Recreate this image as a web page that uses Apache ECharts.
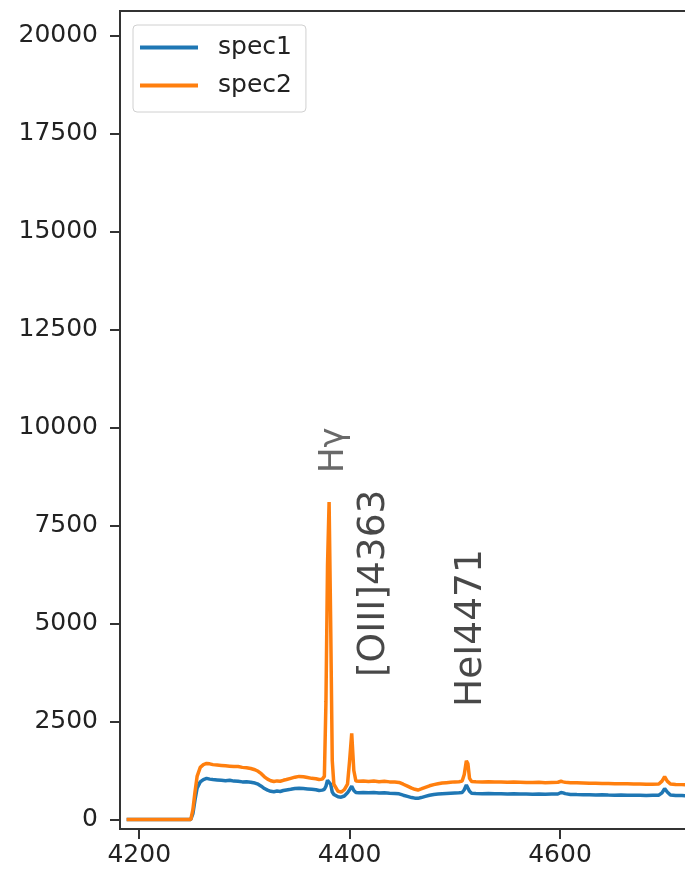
<!DOCTYPE html>
<html>
<head>
<meta charset="utf-8">
<script src="https://cdn.jsdelivr.net/npm/echarts@6/dist/echarts.min.js"></script>
<style>
  html, body { margin: 0; padding: 0; background: #fff; overflow: hidden; }
  #chart { width: 685px; height: 871px; }
</style>
</head>
<body>
<div id="chart"></div>
<script>
// Wavelength grid (Å) and the two flux spectra
const wave = [
  4188, 4249, 4251, 4253, 4255, 4258, 4261, 4264, 4267, 4270, 4274, 4278, 4282, 4286, 4290,
  4294, 4298, 4302, 4306, 4310, 4313, 4316, 4319, 4322, 4325, 4328, 4331, 4334, 4337, 4340,
  4344, 4348, 4352, 4356, 4360, 4364, 4368, 4371, 4374, 4376, 4377.5, 4379, 4380.5, 4382, 4383.5,
  4385, 4389, 4392, 4395, 4398, 4400, 4402, 4404, 4406, 4409, 4413, 4418, 4423, 4428, 4433,
  4438, 4443, 4447, 4451, 4455, 4459, 4462, 4465, 4468, 4472, 4476, 4480, 4484, 4488, 4492,
  4496, 4500, 4504, 4507, 4509, 4511, 4512.5, 4514, 4516, 4520, 4526, 4532, 4538, 4544, 4550,
  4556, 4562, 4568, 4574, 4580, 4586, 4592, 4598, 4601, 4603, 4605, 4610, 4616, 4622, 4628,
  4634, 4640, 4646, 4652, 4658, 4664, 4670, 4676, 4682, 4688, 4694, 4697, 4699.5, 4702, 4705,
  4710, 4716, 4722, 4728, 4734, 4740, 4746, 4752, 4760
];
const spec1 = [
  0, 0, 150, 500, 800, 960, 1020, 1050, 1030, 1020, 1010, 1000, 990, 1000, 980,
  975, 960, 965, 950, 930, 900, 850, 790, 750, 720, 710, 725, 715, 740, 755,
  770, 790, 800, 790, 780, 770, 760, 740, 750, 770, 850, 1000, 1050, 900, 700,
  640, 580, 570, 600, 680, 760, 850, 740, 690, 680, 690, 680, 690, 675, 680,
  670, 665, 655, 620, 590, 560, 545, 540, 560, 590, 620, 640, 650, 660, 665,
  670, 675, 680, 690, 760, 880, 850, 720, 670, 665, 660, 665, 655, 660, 650,
  655, 650, 648, 645, 650, 645, 648, 650, 690, 680, 660, 640, 635, 632, 630,
  628, 630, 625, 622, 625, 620, 618, 620, 615, 618, 620, 680, 790, 700, 625,
  612, 610, 608, 605, 608, 605, 603, 605, 600
];
const spec2 = [
  0, 0, 250, 700, 1100, 1330, 1400, 1430, 1420, 1400, 1390, 1380, 1370, 1360, 1350,
  1350, 1330, 1320, 1300, 1270, 1230, 1170, 1090, 1030, 990, 970, 985, 975, 1000, 1020,
  1050, 1080, 1100, 1090, 1070, 1050, 1040, 1020, 1030, 1100, 3000, 6500, 8100, 5000, 1500,
  900, 720, 700, 760, 900, 1500, 2200, 1250, 980, 975, 985, 970, 980, 965, 975,
  960, 955, 945, 900, 850, 800, 770, 752, 780, 820, 860, 890, 910, 930, 940,
  950, 960, 965, 980, 1150, 1500, 1420, 1050, 970, 965, 960, 965, 955, 960, 950,
  955, 950, 945, 945, 950, 940, 945, 950, 975, 960, 950, 940, 935, 930, 925,
  925, 920, 918, 915, 915, 910, 905, 905, 900, 900, 905, 980, 1090, 980, 905,
  895, 890, 885, 880, 882, 880, 878, 880, 875
];

// Axis ticks
const xTicks = [4200, 4400, 4600];
const yTicks = [0, 2500, 5000, 7500, 10000, 12500, 15000, 17500, 20000];

// Emission-line annotations: text and anchor (wavelength, flux) where the text starts
const lineNames = ['Hγ', '[OIII]4363', 'HeI4471'];
const lineWave = [4385.1, 4423.1, 4516.0];
const lineFlux = [8839, 3635, 2870];
const lineFont = [34, 37.5, 37.5];

const seriesNames = ['spec1', 'spec2'];
const seriesColors = ['#1f77b4', '#ff7f0e'];

const font = 'DejaVu Sans';
const chart = echarts.init(document.getElementById('chart'), null, { renderer: 'canvas' });

const pairs = (ys) => wave.map((w, i) => [w, ys[i]]);

const annotationData = lineNames.map((n, i) => ({
  value: [lineWave[i], lineFlux[i]],
  label: { formatter: n, fontSize: lineFont[i], color: i === 0 ? '#444' : '#1a1a1a' }
}));

chart.setOption({
  backgroundColor: '#ffffff',
  animation: false,
  grid: {
    // the plot box runs past the right edge of the canvas
    left: 120, top: 11, bottom: 42, width: 605,
    outerBoundsMode: 'none', containLabel: false,
    show: true, borderColor: '#333', borderWidth: 2, backgroundColor: 'transparent'
  },
  legend: {
    data: seriesNames,
    orient: 'vertical',
    left: 133, top: 25,
    icon: 'rect',
    itemWidth: 58, itemHeight: 4, itemGap: 13,
    padding: [10, 14, 14, 7],
    backgroundColor: 'rgba(255,255,255,0.8)',
    borderColor: '#d0d0d0', borderWidth: 1, borderRadius: 4,
    textStyle: { fontFamily: font, fontSize: 25, lineHeight: 25, color: '#222', padding: [0, 0, 0, 15] }
  },
  xAxis: {
    type: 'value',
    min: 4181.7, max: 4756.9,
    axisLine: { show: true, onZero: false, lineStyle: { color: '#333', width: 2 } },
    axisTick: { show: true, length: 10, customValues: xTicks, lineStyle: { color: '#333', width: 2 } },
    axisLabel: { customValues: xTicks, margin: 14, fontFamily: font, fontSize: 25, color: '#222',
                 formatter: (v) => String(v) },
    splitLine: { show: false }
  },
  yAxis: {
    type: 'value',
    min: -242, max: 20625,
    axisLine: { show: true, onZero: false, lineStyle: { color: '#333', width: 2 } },
    axisTick: { show: true, length: 10, customValues: yTicks, lineStyle: { color: '#333', width: 2 } },
    axisLabel: { customValues: yTicks, margin: 22, fontFamily: font, fontSize: 25, color: '#222',
                 formatter: (v) => String(v) },
    splitLine: { show: false }
  },
  series: [
    ...seriesNames.map((name, k) => ({
      name, type: 'line',
      data: pairs(k === 0 ? spec1 : spec2),
      symbol: 'none', showSymbol: false,
      lineStyle: { color: seriesColors[k], width: 3.5 },
      itemStyle: { color: seriesColors[k] },
      silent: true, z: 2 + k
    })),
    {
      name: 'lines', type: 'scatter',
      symbolSize: 0, silent: true, z: 5,
      data: annotationData,
      label: {
        show: true, position: [0, 0], rotate: 90,
        align: 'left', verticalAlign: 'middle', fontFamily: font
      }
    }
  ]
});
</script>
</body>
</html>
